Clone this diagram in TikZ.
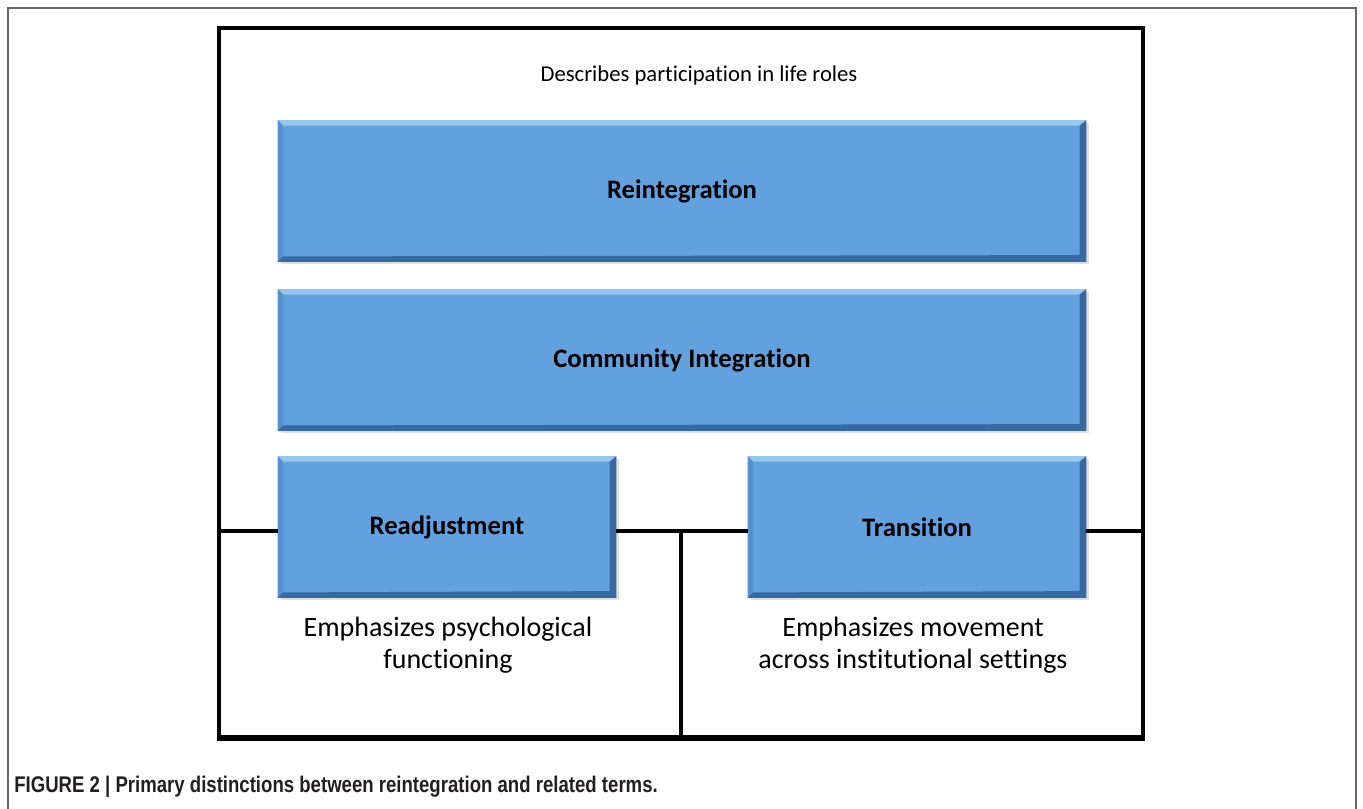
\documentclass[tikz,border=0pt]{standalone}
\usepackage{fontspec}
\setmainfont[Ligatures={NoCommon}]{Carlito}
\newfontfamily\capfont[FakeStretch=0.82]{Liberation Sans}
\usetikzlibrary{shadows}
\definecolor{boxblue}{RGB}{99,161,222}
\definecolor{bevlight}{RGB}{150,198,240}
\definecolor{bevdark}{RGB}{55,105,160}
\definecolor{bevleft}{RGB}{85,145,205}
\definecolor{captext}{RGB}{35,31,32}
\tikzset{
  bluebox/.style={fill=boxblue, inner sep=0pt,
    drop shadow={shadow xshift=2pt, shadow yshift=-2pt, opacity=0.25}},
  boxlabel/.style={font=\fontsize{20}{24}\selectfont\bfseries, inner sep=0pt},
  toptext/.style={font=\fontsize{17}{22}\selectfont, inner sep=0pt},
  plaintext/.style={font=\fontsize{21}{24}\selectfont, align=center, inner sep=0pt},
  frameline/.style={line width=2.5pt, black},
  pageline/.style={line width=1pt, black!60}
}
\newcommand\bevelbox[1]{%
  \fill[bevlight] (#1.north west) -- (#1.north east) -- ([xshift=-4pt,yshift=-4pt]#1.north east) -- ([xshift=4pt,yshift=-4pt]#1.north west) -- cycle;
  \fill[bevleft] (#1.north west) -- ([xshift=4pt,yshift=-4pt]#1.north west) -- ([xshift=4pt,yshift=4pt]#1.south west) -- (#1.south west) -- cycle;
  \fill[bevdark] (#1.north east) -- (#1.south east) -- ([xshift=-5pt,yshift=5pt]#1.south east) -- ([xshift=-5pt,yshift=-4pt]#1.north east) -- cycle;
  \fill[bevdark] (#1.south west) -- (#1.south east) -- ([xshift=-5pt,yshift=5pt]#1.south east) -- ([xshift=4pt,yshift=4pt]#1.south west) -- cycle;
}
\begin{document}
\begin{tikzpicture}[x=0.75pt,y=-0.75pt]
\useasboundingbox (0,0) rectangle (1363,809);
\fill[white] (0,0) rectangle (1363,809);
% page frame
\draw[pageline] (8,809) -- (8,8) -- (1356,8) -- (1356,809);
% diagram frame corners
\coordinate (ftl) at (219,28);
\coordinate (fbr) at (1143,738);
\coordinate (div) at (681,531);
% blue boxes
\node[bluebox, minimum width=606pt, minimum height=105.75pt] (reint) at (682,191) {};
\node[bluebox, minimum width=606pt, minimum height=105.75pt] (comm) at (682,360) {};
\node[bluebox, minimum width=253.5pt, minimum height=105.75pt] (readj) at (447,527) {};
\node[bluebox, minimum width=253.5pt, minimum height=105.75pt] (trans) at (917,527) {};
\bevelbox{reint}\bevelbox{comm}\bevelbox{readj}\bevelbox{trans}
\node[boxlabel] (reintl) at (reint) {Reintegration};
\node[boxlabel] (comml) at (comm) {Community Integration};
\node[boxlabel] (readjl) at (readj) {Readjustment};
\node[boxlabel] (transl) at (trans) {Transition};
% frame lines
\draw[frameline] (ftl |- div) -- (ftl) -- (fbr |- ftl) -- (fbr |- div);
\draw[frameline] (ftl |- div) -- (readj.west |- div);
\draw[frameline] (readj.east |- div) -- (div) -- (trans.west |- div);
\draw[frameline] (trans.east |- div) -- (fbr |- div);
\draw[frameline] (ftl |- div) -- (ftl |- fbr);
\draw[line width=4pt] ([xshift=-1.25pt]ftl |- fbr) -- ([xshift=1.25pt]fbr);
\draw[frameline] (div) -- (div |- fbr);
\draw[frameline] (fbr |- div) -- (fbr);
% texts
\node[toptext] (top) at (699,75) {Describes participation in life roles};
\node[plaintext] (ltxt) at (448,645) {Emphasizes psychological\\functioning};
\node[plaintext] (rtxt) at (913,645) {Emphasizes movement\\across institutional settings};
\node[anchor=west, inner sep=0pt, text=captext, font=\capfont\bfseries\fontsize{17}{20}\selectfont] (cap) at (14,787) {FIGURE 2 | Primary distinctions between reintegration and related terms.};
\end{tikzpicture}
\end{document}
